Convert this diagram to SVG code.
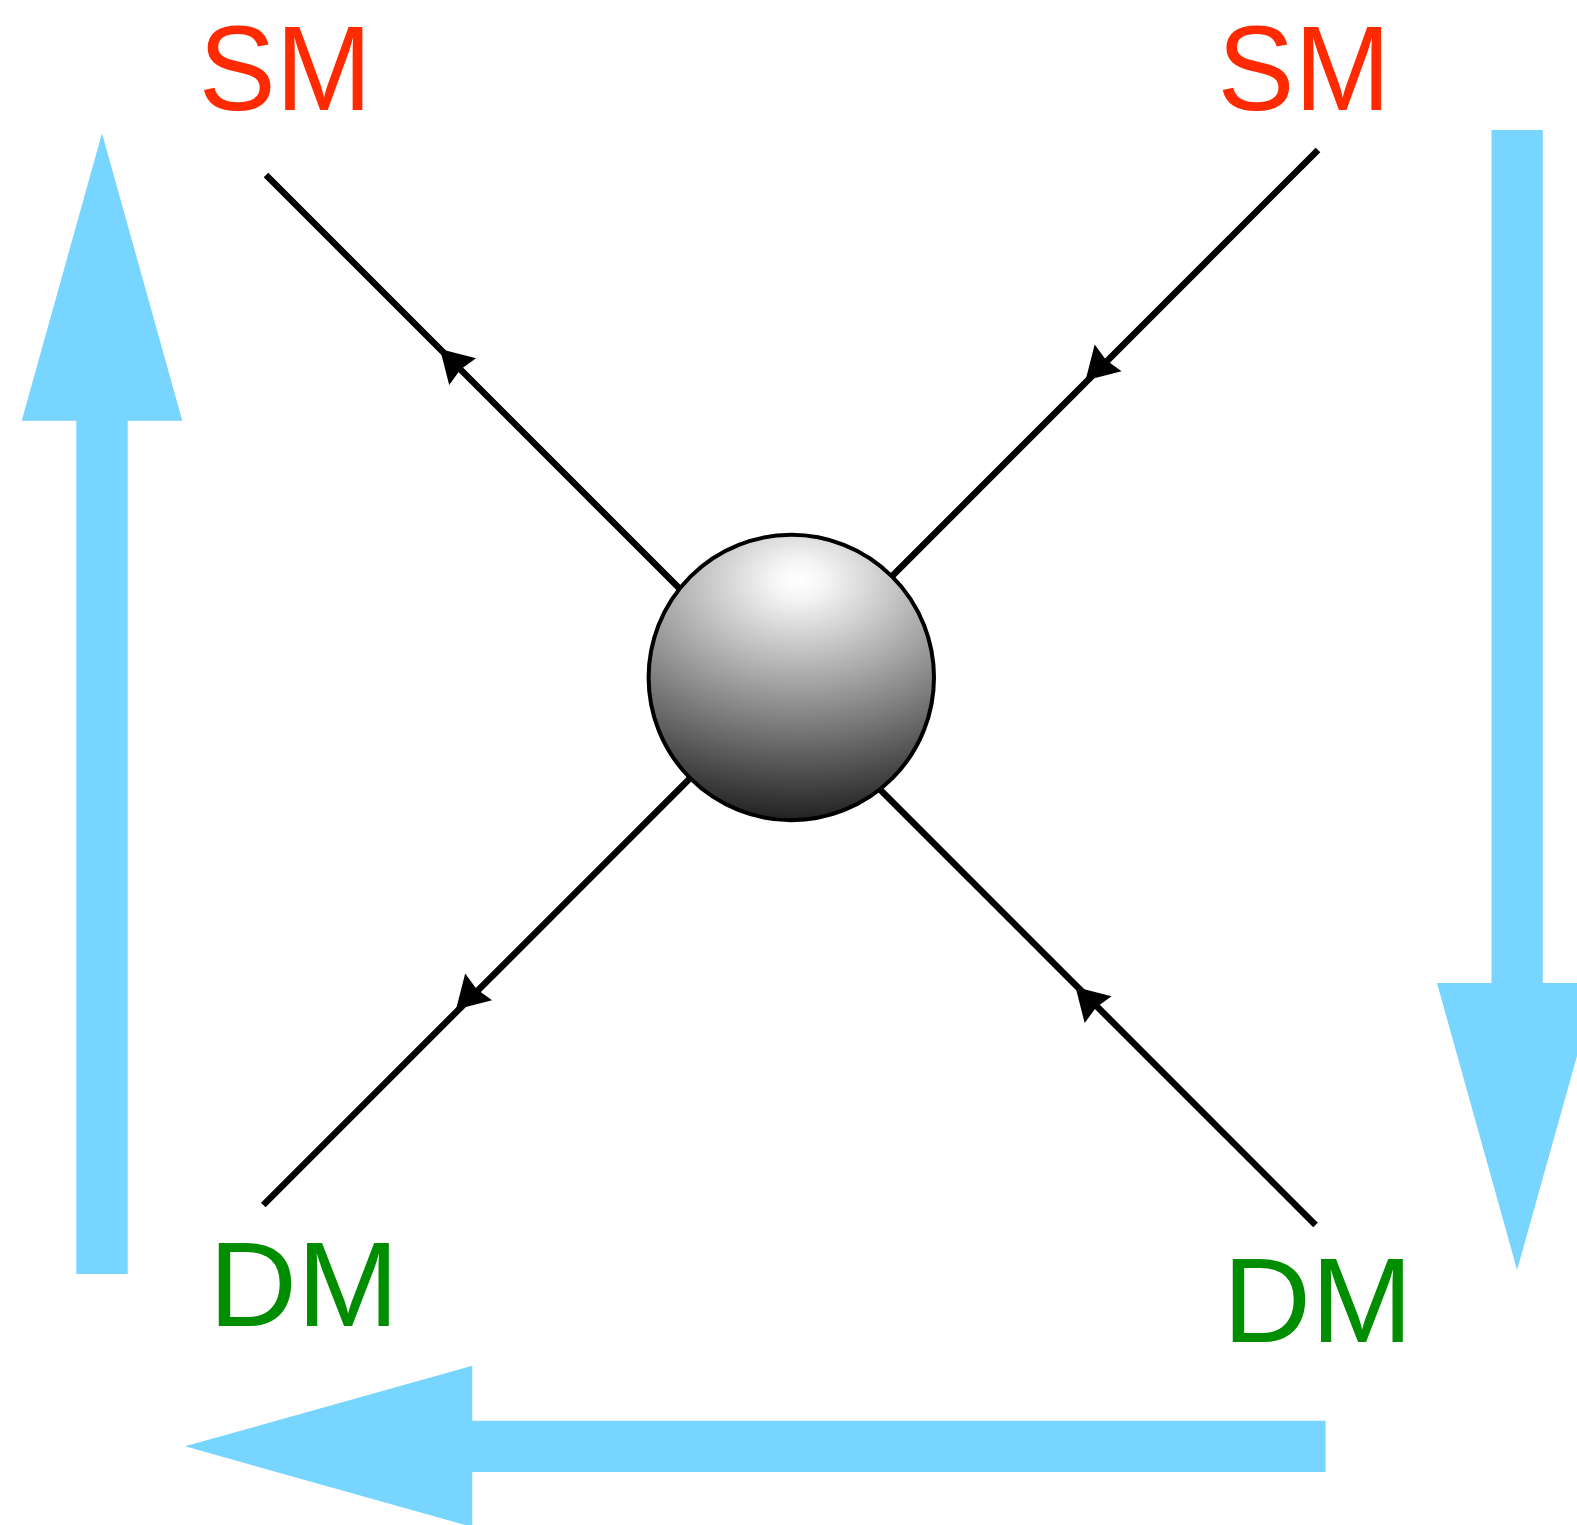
<svg xmlns="http://www.w3.org/2000/svg" xmlns:xlink="http://www.w3.org/1999/xlink" width="1577" height="1525" viewBox="0 0 1577 1525">
  <style>
    .flow { fill: #77d5ff; }
    .leg { fill: none; stroke: #000; stroke-width: 6.5; stroke-linecap: butt; }
    .head { fill: #000; }
    .lbl { font-family: "Liberation Sans", Arial, sans-serif; font-size: 120px; }
    .sm { fill: #ff2a00; }
    .dm { fill: #008e00; }
  </style>
  <defs>
    <!-- shading for the interaction blob: bright spot upper centre, dark underside -->
    <radialGradient id="blobShade" gradientUnits="userSpaceOnUse" cx="799" cy="580" r="250"
                    gradientTransform="translate(799 580) scale(1.4 1) translate(-799 -580)">
      <stop offset="0" stop-color="#ffffff"/>
      <stop offset="0.07" stop-color="#f6f6f6"/>
      <stop offset="1" stop-color="#181818"/>
    </radialGradient>
    <!-- arrowhead on a line, tip at origin, pointing along +x -->
    <path id="ah" class="head" d="M0,0 L-32,-19 L-29,0 L-32,19 Z"/>
  </defs>

  <!-- big flow arrows round the border -->
  <g id="flow-up">
    <path class="flow" d="M76.3,1274 L76.3,420.7 L21.7,420.7 L102,133.3 L182.3,420.7 L127.7,420.7 L127.7,1274 Z"/>
  </g>
  <g id="flow-down">
    <path class="flow" d="M1491.5,130 L1491.5,983 L1437,983 L1517.1,1270 L1597.4,983 L1542.8,983 L1542.8,130 Z"/>
  </g>
  <g id="flow-left">
    <path class="flow" d="M1325.6,1420.7 L472.3,1420.7 L472.3,1365.7 L185,1446.3 L472.3,1527 L472.3,1472 L1325.6,1472 Z"/>
  </g>

  <!-- particle lines with direction arrows -->
  <g id="connectors">
    <path class="leg" d="M266,175 L760,669"/>
    <path class="leg" d="M1318,150 L791,677.3"/>
    <path class="leg" d="M263.3,1205 L791,677.3"/>
    <path class="leg" d="M1315.5,1225 L822,731.5"/>
    <use xlink:href="#ah" href="#ah" transform="translate(440 349) rotate(225)"/>
    <use xlink:href="#ah" href="#ah" transform="translate(1085.5 380.5) rotate(135)"/>
    <use xlink:href="#ah" href="#ah" transform="translate(456 1009.5) rotate(135)"/>
    <use xlink:href="#ah" href="#ah" transform="translate(1075.5 987) rotate(225)"/>
  </g>

  <!-- interaction blob -->
  <g id="vertex">
    <circle cx="791.3" cy="677.5" r="142.7" fill="url(#blobShade)" stroke="#000" stroke-width="4"/>
  </g>

  <!-- labels -->
  <g id="sm-top-left">
    <text class="lbl sm" x="198.8" y="110" textLength="173" lengthAdjust="spacingAndGlyphs">SM</text>
  </g>
  <g id="sm-top-right">
    <text class="lbl sm" x="1217.5" y="110" textLength="173" lengthAdjust="spacingAndGlyphs">SM</text>
  </g>
  <g id="dm-bottom-left">
    <text class="lbl dm" x="208.8" y="1326" textLength="190" lengthAdjust="spacingAndGlyphs">DM</text>
  </g>
  <g id="dm-bottom-right">
    <text class="lbl dm" x="1222.8" y="1341.7" textLength="190" lengthAdjust="spacingAndGlyphs">DM</text>
  </g>
</svg>
